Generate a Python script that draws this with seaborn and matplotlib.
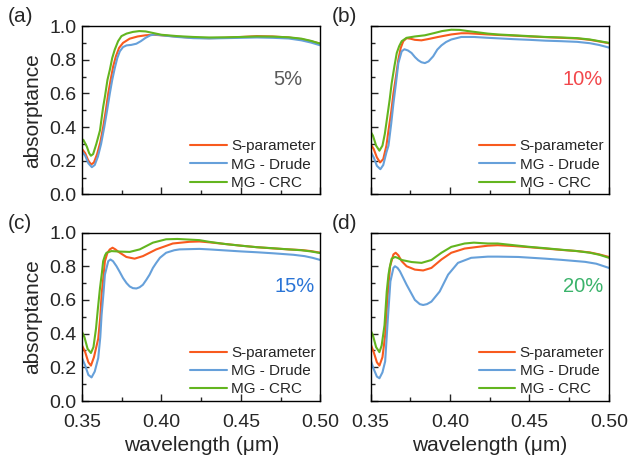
import matplotlib
matplotlib.use('Agg')
import matplotlib.pyplot as plt
import pandas as pd
import seaborn as sns
from matplotlib.ticker import MultipleLocator

# ---- data ----
labels = ['S-parameter', 'MG - Drude', 'MG - CRC']
line_colors = ['#F85A1E', '#66A0DA', '#63B51F']
panel_tags = ['(a)', '(b)', '(c)', '(d)']
fractions = ['5%', '10%', '15%', '20%']
fraction_colors = ['#5A5A5A', '#F2474B', '#2A74D6', '#3BB36B']

# (a) 5%
wl_a_sp = [0.350, 0.352, 0.354, 0.3558, 0.3575, 0.3595, 0.3615, 0.3633, 0.365, 0.3665, 0.368, 0.3696, 0.3713,
           0.3733, 0.3758, 0.380, 0.385, 0.390, 0.395, 0.400, 0.410, 0.420, 0.430, 0.440, 0.450, 0.460, 0.470,
           0.480, 0.488, 0.494, 0.500]
ab_a_sp = [0.270, 0.245, 0.200, 0.178, 0.190, 0.240, 0.310, 0.400, 0.500, 0.600, 0.680, 0.760, 0.820,
           0.870, 0.900, 0.925, 0.938, 0.945, 0.948, 0.945, 0.937, 0.930, 0.928, 0.930, 0.935, 0.940, 0.938,
           0.932, 0.922, 0.910, 0.895]
wl_a_dr = [0.350, 0.352, 0.354, 0.3562, 0.358, 0.360, 0.362, 0.364, 0.3658, 0.3675, 0.369, 0.3706, 0.3722,
           0.3738, 0.3758, 0.378, 0.381, 0.3842, 0.387, 0.390, 0.393, 0.396, 0.400, 0.410, 0.420, 0.430,
           0.440, 0.450, 0.460, 0.470, 0.480, 0.488, 0.494, 0.500]
ab_a_dr = [0.255, 0.230, 0.185, 0.162, 0.175, 0.225, 0.300, 0.400, 0.500, 0.600, 0.680, 0.750, 0.810,
           0.850, 0.875, 0.885, 0.888, 0.895, 0.910, 0.930, 0.945, 0.950, 0.945, 0.935, 0.928, 0.926,
           0.928, 0.930, 0.932, 0.930, 0.926, 0.915, 0.902, 0.885]
wl_a_crc = [0.350, 0.3508, 0.353, 0.3545, 0.3556, 0.357, 0.359, 0.3613, 0.3633, 0.3644, 0.366, 0.3675, 0.369,
            0.3706, 0.3727, 0.3748, 0.378, 0.382, 0.386, 0.390, 0.395, 0.400, 0.410, 0.420, 0.430, 0.440,
            0.450, 0.460, 0.470, 0.480, 0.488, 0.494, 0.500]
ab_a_crc = [0.320, 0.325, 0.285, 0.245, 0.230, 0.240, 0.300, 0.380, 0.520, 0.580, 0.680, 0.740, 0.810,
            0.860, 0.910, 0.940, 0.955, 0.965, 0.970, 0.968, 0.958, 0.948, 0.940, 0.935, 0.932, 0.933,
            0.935, 0.938, 0.937, 0.933, 0.925, 0.912, 0.895]

# (b) 10%
wl_b_sp = [0.350, 0.352, 0.354, 0.356, 0.358, 0.360, 0.3613, 0.363, 0.3644, 0.366, 0.3675, 0.369, 0.3706,
           0.3727, 0.375, 0.3779, 0.382, 0.386, 0.3925, 0.4008, 0.4071, 0.4113, 0.4238, 0.430, 0.440, 0.450,
           0.460, 0.470, 0.480, 0.488, 0.494, 0.500]
ab_b_sp = [0.300, 0.270, 0.220, 0.190, 0.210, 0.290, 0.380, 0.490, 0.600, 0.700, 0.800, 0.870, 0.910,
           0.928, 0.925, 0.918, 0.915, 0.922, 0.935, 0.950, 0.957, 0.957, 0.950, 0.947, 0.943, 0.938,
           0.934, 0.930, 0.926, 0.918, 0.908, 0.898]
wl_b_dr = [0.350, 0.352, 0.354, 0.3562, 0.358, 0.360, 0.3613, 0.363, 0.3644, 0.366, 0.3675, 0.3696, 0.3713,
           0.3735, 0.3758, 0.378, 0.380, 0.382, 0.3842, 0.3865, 0.3894, 0.392, 0.3946, 0.3975, 0.4008,
           0.4071, 0.415, 0.4238, 0.430, 0.440, 0.450, 0.460, 0.470, 0.480, 0.488, 0.494, 0.500]
ab_b_dr = [0.255, 0.220, 0.170, 0.150, 0.175, 0.250, 0.290, 0.420, 0.540, 0.660, 0.780, 0.850, 0.862,
           0.855, 0.840, 0.815, 0.797, 0.785, 0.780, 0.790, 0.820, 0.860, 0.885, 0.905, 0.920,
           0.935, 0.935, 0.930, 0.927, 0.922, 0.918, 0.913, 0.910, 0.906, 0.898, 0.887, 0.872]
wl_b_crc = [0.350, 0.3515, 0.3535, 0.3556, 0.3575, 0.359, 0.3602, 0.362, 0.3633, 0.365, 0.3665, 0.368, 0.3696,
            0.3727, 0.3779, 0.3842, 0.390, 0.395, 0.4008, 0.406, 0.4113, 0.4238, 0.430, 0.440, 0.450,
            0.460, 0.470, 0.480, 0.488, 0.494, 0.500]
ab_b_crc = [0.373, 0.350, 0.290, 0.260, 0.290, 0.360, 0.440, 0.560, 0.660, 0.760, 0.840, 0.880, 0.910,
            0.930, 0.938, 0.945, 0.958, 0.970, 0.978, 0.977, 0.970, 0.955, 0.950, 0.945, 0.940,
            0.935, 0.932, 0.928, 0.920, 0.910, 0.900]

# (c) 15%
wl_c_sp = [0.350, 0.352, 0.354, 0.3556, 0.3575, 0.3602, 0.3615, 0.3623, 0.3635, 0.3644, 0.366, 0.3675,
           0.3692, 0.371, 0.3727, 0.3779, 0.3831, 0.3883, 0.3967, 0.4071, 0.4175, 0.4238, 0.430, 0.440,
           0.450, 0.460, 0.470, 0.480, 0.488, 0.494, 0.500]
ab_c_sp = [0.330, 0.290, 0.230, 0.210, 0.260, 0.370, 0.500, 0.630, 0.740, 0.830, 0.880, 0.900,
           0.910, 0.900, 0.887, 0.855, 0.845, 0.860, 0.900, 0.935, 0.945, 0.947, 0.942, 0.932,
           0.922, 0.913, 0.906, 0.900, 0.896, 0.890, 0.880]
wl_c_dr = [0.350, 0.352, 0.354, 0.356, 0.358, 0.3602, 0.3615, 0.3623, 0.3635, 0.3644, 0.3665, 0.3679,
           0.3695, 0.3717, 0.3738, 0.3758, 0.378, 0.380, 0.382, 0.3842, 0.3862, 0.3883, 0.3905, 0.3925,
           0.3946, 0.3967, 0.399, 0.4029, 0.408, 0.4113, 0.4238, 0.430, 0.440, 0.450, 0.460, 0.470,
           0.483, 0.490, 0.495, 0.500]
ab_c_dr = [0.255, 0.210, 0.155, 0.140, 0.175, 0.255, 0.380, 0.510, 0.640, 0.750, 0.830, 0.840,
           0.830, 0.800, 0.765, 0.730, 0.700, 0.680, 0.670, 0.668, 0.675, 0.690, 0.720, 0.750,
           0.790, 0.820, 0.850, 0.880, 0.895, 0.900, 0.903, 0.900, 0.894, 0.888, 0.883, 0.877,
           0.868, 0.860, 0.850, 0.837]
wl_c_crc = [0.350, 0.3515, 0.3535, 0.3556, 0.3572, 0.3588, 0.360, 0.3613, 0.3625, 0.3633, 0.3645, 0.3654,
            0.3685, 0.3738, 0.380, 0.3863, 0.3946, 0.4029, 0.410, 0.4238, 0.430, 0.440, 0.450, 0.460,
            0.470, 0.480, 0.488, 0.494, 0.500]
ab_c_crc = [0.410, 0.380, 0.310, 0.285, 0.320, 0.430, 0.550, 0.670, 0.760, 0.830, 0.865, 0.880,
            0.890, 0.887, 0.885, 0.900, 0.940, 0.960, 0.962, 0.955, 0.945, 0.932, 0.922, 0.913,
            0.907, 0.900, 0.895, 0.888, 0.878]

# (d) 20%
wl_d_sp = [0.350, 0.352, 0.354, 0.3556, 0.3575, 0.3592, 0.3608, 0.3623, 0.3644, 0.3658, 0.3675, 0.3696,
           0.3727, 0.3779, 0.3831, 0.3883, 0.3946, 0.4008, 0.4092, 0.4175, 0.4238, 0.430, 0.440, 0.450,
           0.460, 0.470, 0.480, 0.488, 0.494, 0.500]
ab_d_sp = [0.340, 0.290, 0.230, 0.210, 0.260, 0.390, 0.630, 0.800, 0.870, 0.880, 0.865, 0.830,
           0.800, 0.780, 0.775, 0.790, 0.840, 0.880, 0.905, 0.915, 0.922, 0.925, 0.920, 0.913,
           0.905, 0.897, 0.890, 0.882, 0.870, 0.855]
wl_d_dr = [0.350, 0.352, 0.354, 0.3556, 0.3575, 0.3592, 0.3608, 0.3625, 0.3644, 0.3654, 0.367, 0.3685,
           0.3727, 0.3779, 0.381, 0.3831, 0.3855, 0.3883, 0.3935, 0.3988, 0.405, 0.4133, 0.4238, 0.430,
           0.443, 0.460, 0.470, 0.485, 0.492, 0.500]
ab_d_dr = [0.245, 0.190, 0.145, 0.135, 0.170, 0.235, 0.475, 0.710, 0.790, 0.800, 0.790, 0.770,
           0.690, 0.600, 0.575, 0.570, 0.575, 0.590, 0.650, 0.750, 0.820, 0.850, 0.857, 0.857,
           0.855, 0.845, 0.838, 0.826, 0.815, 0.790]
wl_d_crc = [0.350, 0.3515, 0.3535, 0.3556, 0.357, 0.3588, 0.3602, 0.3613, 0.362, 0.3633, 0.3654, 0.367,
            0.3696, 0.3758, 0.3821, 0.3883, 0.3946, 0.4008, 0.4092, 0.415, 0.4238, 0.430, 0.440, 0.450,
            0.460, 0.470, 0.480, 0.488, 0.494, 0.500]
ab_d_crc = [0.420, 0.390, 0.320, 0.290, 0.330, 0.450, 0.650, 0.750, 0.790, 0.845, 0.855, 0.850,
            0.837, 0.825, 0.820, 0.837, 0.880, 0.915, 0.935, 0.940, 0.935, 0.935, 0.925, 0.915,
            0.907, 0.898, 0.890, 0.880, 0.868, 0.850]

curves = [
    [(wl_a_sp, ab_a_sp), (wl_a_dr, ab_a_dr), (wl_a_crc, ab_a_crc)],
    [(wl_b_sp, ab_b_sp), (wl_b_dr, ab_b_dr), (wl_b_crc, ab_b_crc)],
    [(wl_c_sp, ab_c_sp), (wl_c_dr, ab_c_dr), (wl_c_crc, ab_c_crc)],
    [(wl_d_sp, ab_d_sp), (wl_d_dr, ab_d_dr), (wl_d_crc, ab_d_crc)],
]

sns.set_style('ticks')
plt.rcParams['font.family'] = ['Liberation Sans', 'DejaVu Sans']
plt.rcParams['axes.edgecolor'] = 'black'
plt.rcParams['axes.linewidth'] = 1.0

fig, axes = plt.subplots(2, 2, figsize=(6.28, 4.63), dpi=100, sharex=True, sharey=True)
fig.subplots_adjust(left=0.1306, right=0.9697, top=0.9438, bottom=0.1339, wspace=0.21, hspace=0.226)
palette = dict(zip(labels, line_colors))

# panel tag positions in figure pixels (x left, y centre from top)
tag_px = [(8, 16), (332, 16), (8, 223), (332, 223)]

for i, ax in enumerate(axes.flat):
    frames = []
    for lab, (wl, ab) in zip(labels, curves[i]):
        frames.append(pd.DataFrame({'wavelength': wl, 'absorptance': ab, 'model': lab}))
    df = pd.concat(frames, ignore_index=True)
    sns.lineplot(data=df, x='wavelength', y='absorptance', hue='model', hue_order=labels,
                 palette=palette, sort=False, estimator=None, lw=1.5, ax=ax)

    ax.set_xlim(0.35, 0.50)
    ax.set_ylim(0.0, 1.0)
    ax.xaxis.set_major_locator(MultipleLocator(0.05))
    ax.xaxis.set_minor_locator(MultipleLocator(0.025))
    ax.yaxis.set_major_locator(MultipleLocator(0.2))
    ax.yaxis.set_minor_locator(MultipleLocator(0.1))
    ax.xaxis.set_major_formatter(matplotlib.ticker.FormatStrFormatter('%.2f'))
    ax.yaxis.set_major_formatter(matplotlib.ticker.FormatStrFormatter('%.1f'))
    ax.tick_params(which='major', direction='in', length=5, width=1, labelsize=14, top=False, right=False)
    ax.tick_params(which='minor', direction='in', length=3, width=1, top=False, right=False)
    ax.tick_params(axis='x', pad=9)
    ax.tick_params(axis='y', pad=4)
    for s in ax.spines.values():
        s.set_visible(True)
        s.set_color('black')

    if i % 2 == 0:
        ax.set_ylabel('absorptance', fontsize=15, labelpad=5)
    else:
        ax.set_ylabel('')
    if i >= 2:
        ax.set_xlabel('wavelength (\u03bcm)', fontsize=15, labelpad=4)
    else:
        ax.set_xlabel('')

    h, l = ax.get_legend_handles_labels()
    ax.legend(h, l, loc='lower right', frameon=False, fontsize=11, handlelength=2.4,
              handletextpad=0.3, labelspacing=0.28, borderaxespad=0.1, borderpad=0.2)

    ax.text(0.975 if i else 0.925, 0.68, fractions[i], transform=ax.transAxes, ha='right', va='center',
            fontsize=14.5, color=fraction_colors[i])

    tx, ty = tag_px[i]
    fig.text(tx / 628, 1 - ty / 463, panel_tags[i], fontsize=15, ha='left', va='center')

fig.savefig('out.png', dpi=100)
